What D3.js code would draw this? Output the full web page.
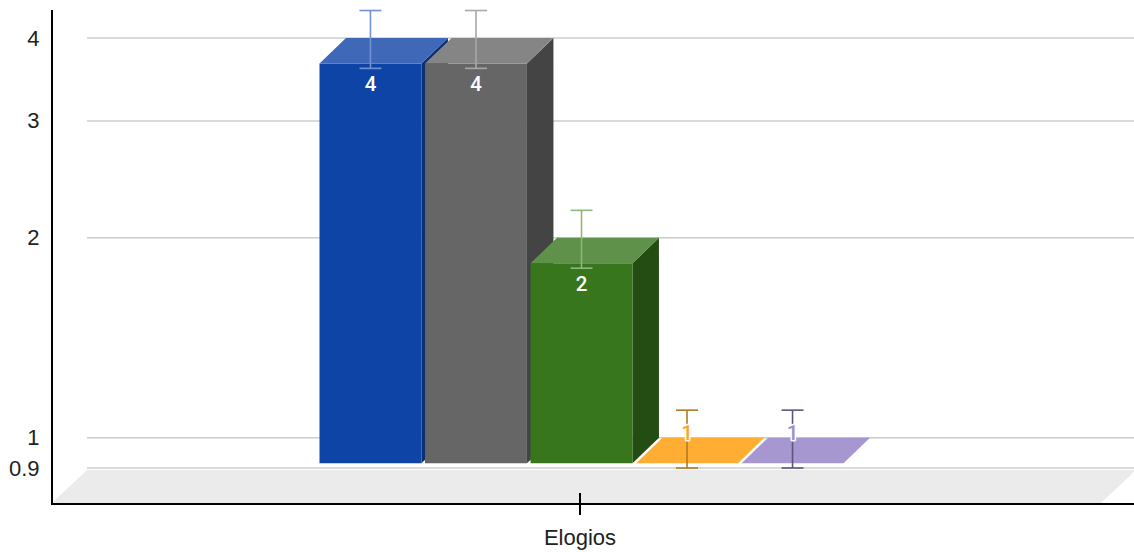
<!DOCTYPE html>
<html>
<head>
<meta charset="utf-8">
<script src="https://cdn.jsdelivr.net/npm/d3@7"></script>
<style>
  html, body { margin: 0; padding: 0; background: #fff; }
  svg { display: block; }
</style>
</head>
<body>
<svg id="chart" width="1134" height="552"></svg>
<script>
// ---- data ----
const categories = ["Elogios"];
const seriesNames = ["Série 1", "Série 2", "Série 3", "Série 4", "Série 5"];
const seriesValues = [4, 4, 2, 1, 1];
const errorLow = [3.6, 3.6, 1.8, 0.9, 0.9];
const errorHigh = [4.4, 4.4, 2.2, 1.1, 1.1];
const yTicks = [0.9, 1, 2, 3, 4];
const dataLabels = ["4", "4", "2", "1", "1"];

// ---- styles ----
const faceColors = [
  { front: "#0f44a7", top: "#3f69b8", side: "#0a2f72", err: "#7292d1", label: "#ffffff" },
  { front: "#666666", top: "#858585", side: "#444444", err: "#a8a8a8", label: "#ffffff" },
  { front: "#38761d", top: "#5f914a", side: "#244d13", err: "#8fb67e", label: "#ffffff" },
  { front: "#ff9900", top: "#ffad33", side: "#b36b00", err: "#b5781f", label: "#ffa41f" },
  { front: "#8e7cc3", top: "#a797d1", side: "#63578a", err: "#5e557a", label: "#9d8dcc" }
];

const svg = d3.select("#chart");
const W = 1134;
const DX = 26.5, DY = 25.5;     // bar depth offset (back -> front)

const y = d3.scaleLog().domain([0.9, 4]).range([468, 38]);
const x = d3.scaleBand().domain(categories).range([52, 1108]);
const groupCenter = x(categories[0]) + x.bandwidth() / 2 + 1.5;
const xs = d3.scaleBand().domain(seriesNames)
  .range([groupCenter - 262, groupCenter + 262]).paddingInner(0.034);

// floor
svg.append("polygon")
  .attr("points", [[52, 503], [87, 470], [1136, 470], [1101, 503]].map(p => p.join(",")).join(" "))
  .attr("fill", "#ebebeb");

// gridlines (back wall)
svg.append("g").selectAll("line").data(yTicks).join("line")
  .attr("x1", 87).attr("x2", W)
  .attr("y1", d => y(d)).attr("y2", d => y(d))
  .attr("stroke", "#cccccc").attr("stroke-width", 1.5);

// bars
const base = 1;
const bars = svg.append("g");
seriesNames.forEach((s, i) => {
  const v = seriesValues[i];
  const c = faceColors[i];
  const x0 = xs(s), x1 = xs(s) + xs.bandwidth();
  const yb = y(v), yf = yb + DY;
  const yb0 = y(base), yf0 = yb0 + DY;
  const g = bars.append("g");
  if (yf0 - yf > 0.5) {
    g.append("polygon")
      .attr("points", [[x1, yf], [x1 + DX, yb], [x1 + DX, yb0], [x1, yf0]].map(p => p.join(",")).join(" "))
      .attr("fill", c.side);
    g.append("polygon")
      .attr("points", [[x0, yf], [x1, yf], [x1, yf0], [x0, yf0]].map(p => p.join(",")).join(" "))
      .attr("fill", c.front);
  }
  g.append("polygon")
    .attr("points", [[x0, yf], [x1, yf], [x1 + DX, yb], [x0 + DX, yb]].map(p => p.join(",")).join(" "))
    .attr("fill", c.top);
});

// error bars
const eg = svg.append("g");
seriesNames.forEach((s, i) => {
  const cx = xs(s) + xs.bandwidth() / 2;
  const c = faceColors[i];
  const yt = y(errorHigh[i]), ybt = y(errorLow[i]);
  eg.append("line").attr("x1", cx).attr("x2", cx).attr("y1", yt).attr("y2", ybt)
    .attr("stroke", c.err).attr("stroke-width", 1.6);
  [yt, ybt].forEach(yy => {
    eg.append("line").attr("x1", cx - 11).attr("x2", cx + 11).attr("y1", yy).attr("y2", yy)
      .attr("stroke", c.err).attr("stroke-width", 1.6);
  });
});

// data labels
const lg = svg.append("g")
  .attr("font-family", "Roboto, 'Liberation Sans', Arial, sans-serif")
  .attr("font-size", 20.5)
  .attr("font-weight", 500)
  .attr("text-anchor", "middle");
seriesNames.forEach((s, i) => {
  const v = seriesValues[i];
  const cx = xs(s) + xs.bandwidth() / 2;
  const yf = y(v) + DY, yf0 = y(base) + DY;
  const inside = (yf0 - yf) > 30;
  const t = lg.append("text")
    .attr("x", cx)
    .attr("y", inside ? yf + 27.5 : yf - 23)
    .text(dataLabels[i]);
  if (inside) {
    t.attr("fill", "#ffffff");
  } else {
    t.attr("fill", faceColors[i].label)
      .attr("stroke", "#ffffff").attr("stroke-width", 3)
      .attr("paint-order", "stroke").attr("stroke-linejoin", "round");
  }
});

// y axis labels
const yAxis = svg.append("g").attr("transform", "translate(52,0)")
  .call(d3.axisLeft(y).tickValues(yTicks).tickFormat(d => String(d)).tickSize(0).tickPadding(12.5));
yAxis.select(".domain").remove();
yAxis.selectAll("text")
  .attr("font-family", "'Liberation Sans', Arial, sans-serif")
  .attr("font-size", 22).attr("fill", "#222222");

// x axis
const xAxis = svg.append("g").attr("transform", "translate(0,504)")
  .call(d3.axisBottom(x).tickSize(11).tickPadding(14));
xAxis.select(".domain").remove();
xAxis.selectAll(".tick line").attr("y1", -11).attr("stroke", "#000").attr("stroke-width", 2);
xAxis.selectAll("text")
  .attr("font-family", "'Liberation Sans', Arial, sans-serif")
  .attr("font-size", 22).attr("fill", "#222222");

// axis lines
svg.append("line").attr("x1", 52).attr("x2", W).attr("y1", 504).attr("y2", 504)
  .attr("stroke", "#000").attr("stroke-width", 2);
svg.append("line").attr("x1", 52).attr("x2", 52).attr("y1", 10).attr("y2", 505)
  .attr("stroke", "#000").attr("stroke-width", 2);
</script>
</body>
</html>
